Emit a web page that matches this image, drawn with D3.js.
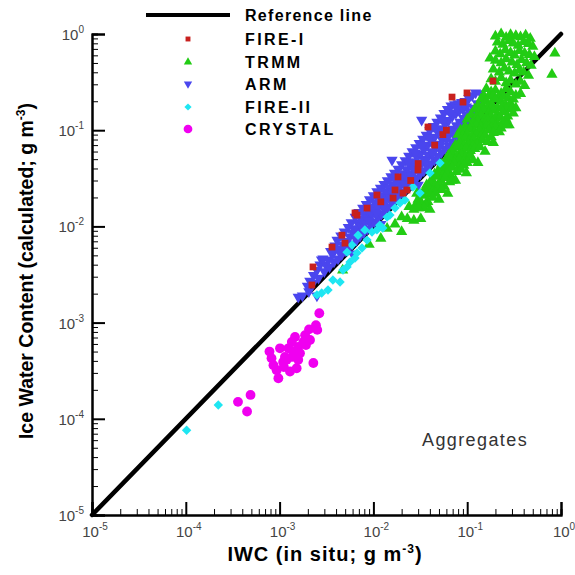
<!DOCTYPE html>
<html>
<head>
<meta charset="utf-8">
<script src="https://cdnjs.cloudflare.com/ajax/libs/d3/7.8.5/d3.min.js"></script>
<title>Aggregates IWC</title>
<style>
  body{ margin:0; background:#fff; }
  text{ font-family:"Liberation Sans", Arial, Helvetica, sans-serif; }
</style>
</head>
<body>
<script>
// values in g m^-3, [in situ, calculated]
var fire1 = [[0.188,0.325],[0.0995,0.244],[0.0689,0.221],[0.0902,0.196],[0.0382,0.108],[0.0228,0.0239],
  [0.00668,0.0131],[0.00462,0.0081],[0.00362,0.0061],[0.00227,0.00379],[0.00221,0.00246],[0.017,0.0239],
  [0.0162,0.0197],[0.0207,0.0222],[0.00637,0.0138],[0.00498,0.0067],[0.00855,0.0155],[0.0109,0.0212],
  [0.0299,0.0386],[0.0183,0.0327],[0.030,0.045],[0.045,0.07],[0.055,0.09],[0.012,0.018],[0.025,0.030],[0.06,0.10]];

var trmm = [
  [0.20,0.95],[0.23,1.0],[0.26,0.92],[0.29,0.98],[0.33,0.96],[0.37,0.93],[0.42,0.97],[0.47,0.90],
  [0.21,0.82],[0.24,0.78],[0.28,0.85],[0.31,0.80],[0.35,0.76],[0.40,0.83],[0.45,0.79],[0.50,0.74],
  [0.20,0.66],[0.225,0.62],[0.255,0.68],[0.29,0.64],[0.32,0.60],[0.36,0.67],[0.41,0.63],[0.46,0.61],[0.52,0.58],[0.86,0.63],
  [0.175,0.56],[0.20,0.53],[0.23,0.50],[0.26,0.55],[0.30,0.51],[0.34,0.48],[0.38,0.54],[0.43,0.50],[0.48,0.47],
  [0.19,0.43],[0.22,0.40],[0.25,0.44],[0.28,0.41],[0.32,0.39],[0.36,0.42],[0.40,0.40],[0.45,0.37],[0.80,0.38],
  [0.18,0.34],[0.20,0.32],[0.23,0.35],[0.26,0.31],[0.29,0.33],[0.33,0.30],[0.37,0.32],[0.41,0.29],
  [0.16,0.27],[0.18,0.25],[0.20,0.26],[0.23,0.24],[0.26,0.27],[0.29,0.25],[0.33,0.23],[0.37,0.24],
  [0.15,0.23],[0.17,0.225],[0.19,0.23],[0.215,0.22],[0.245,0.225],[0.275,0.215],[0.31,0.21],
  [0.14,0.21],[0.16,0.20],[0.18,0.19],[0.20,0.21],[0.23,0.20],[0.26,0.18],[0.29,0.19],[0.33,0.17],
  [0.13,0.18],[0.145,0.178],[0.165,0.175],[0.185,0.178],[0.21,0.17],[0.235,0.175],[0.26,0.165],[0.30,0.17],
  [0.12,0.165],[0.135,0.155],[0.15,0.16],[0.17,0.15],[0.19,0.16],[0.21,0.145],[0.24,0.155],[0.27,0.14],[0.31,0.15],
  [0.11,0.145],[0.125,0.14],[0.14,0.142],[0.16,0.138],[0.18,0.14],[0.20,0.133],[0.225,0.138],[0.26,0.13],
  [0.10,0.13],[0.115,0.12],[0.13,0.125],[0.145,0.118],[0.165,0.128],[0.185,0.12],[0.21,0.115],[0.24,0.122],[0.28,0.113],
  [0.095,0.11],[0.11,0.108],[0.125,0.112],[0.14,0.107],[0.16,0.11],[0.18,0.106],[0.20,0.108],[0.23,0.105],
  [0.085,0.10],[0.095,0.097],[0.107,0.102],[0.12,0.095],[0.135,0.099],[0.15,0.093],[0.17,0.10],[0.19,0.094],[0.22,0.096],[0.265,0.113],
  [0.08,0.09],[0.09,0.088],[0.10,0.091],[0.112,0.087],[0.125,0.09],[0.14,0.086],[0.155,0.088],[0.18,0.085],
  [0.085,0.078],[0.095,0.082],[0.105,0.077],[0.118,0.08],[0.13,0.075],[0.145,0.079],[0.165,0.076],[0.19,0.074],
  [0.075,0.07],[0.083,0.073],[0.092,0.069],[0.103,0.071],[0.115,0.068],[0.128,0.07],
  [0.07,0.063],[0.078,0.067],[0.087,0.062],[0.097,0.065],[0.108,0.061],[0.12,0.064],[0.137,0.067],[0.155,0.06],
  [0.063,0.055],[0.07,0.057],[0.078,0.054],[0.087,0.056],[0.096,0.053],[0.108,0.055],
  [0.059,0.049],[0.066,0.051],[0.074,0.048],[0.082,0.05],[0.091,0.047],[0.10,0.046],[0.115,0.049],[0.13,0.046],
  [0.053,0.044],[0.059,0.045],[0.066,0.043],[0.073,0.045],[0.082,0.042],[0.092,0.043],
  [0.05,0.039],[0.056,0.04],[0.062,0.038],[0.069,0.041],[0.077,0.037],[0.086,0.039],[0.098,0.036],
  [0.045,0.035],[0.05,0.036],[0.055,0.034],[0.061,0.035],[0.068,0.033],
  [0.042,0.031],[0.047,0.033],[0.052,0.03],[0.058,0.032],[0.065,0.029],[0.069,0.030],[0.075,0.03],
  [0.037,0.027],[0.041,0.028],[0.045,0.026],[0.051,0.027],[0.057,0.026],
  [0.035,0.024],[0.039,0.025],[0.043,0.023],[0.048,0.025],[0.054,0.024],[0.062,0.022],
  [0.029,0.022],[0.032,0.0215],[0.036,0.023],[0.040,0.0215],[0.046,0.022],
  [0.030,0.019],[0.034,0.021],[0.038,0.018],[0.043,0.020],[0.050,0.019],
  [0.029,0.0175],[0.032,0.018],[0.036,0.017],
  [0.024,0.016],[0.027,0.015],[0.030,0.0165],[0.035,0.0155],[0.040,0.015],
  [0.020,0.0125],[0.023,0.012],[0.027,0.0115],[0.032,0.012],
  [0.020,0.0088],[0.030,0.0155],[0.017,0.0105],[0.014,0.0095],[0.0047,0.0035],[0.012,0.0075],[0.009,0.0065]];

var arm = [
  [0.00158,0.00185],[0.00175,0.0019],[0.00198,0.0024],[0.00205,0.0021],[0.0021,0.0027],[0.0025,0.0019],
  [0.00227,0.00258],[0.0023,0.0031],[0.0026,0.0029],[0.0025,0.0035],[0.0027,0.0040],[0.0028,0.0045],
  [0.0030,0.0034],[0.0031,0.0040],[0.0029,0.0046],[0.0034,0.0038],[0.0033,0.0045],[0.0035,0.0055],
  [0.0038,0.0043],[0.0037,0.0052],[0.0039,0.0063],[0.0042,0.0046],[0.0043,0.0058],[0.0041,0.0072],
  [0.0046,0.0051],[0.0047,0.0064],[0.0045,0.0080],[0.0050,0.0056],[0.0051,0.0070],[0.0049,0.0088],
  [0.0055,0.0060],[0.0056,0.0078],[0.0054,0.0098],[0.0060,0.0066],[0.0061,0.0085],[0.0058,0.0110],[0.0062,0.0095],[0.0060,0.0052],
  [0.0066,0.0072],[0.0067,0.0092],[0.0064,0.0125],[0.0068,0.0108],
  [0.0072,0.0079],[0.0074,0.0102],[0.0070,0.0140],[0.0073,0.0120],
  [0.0079,0.0086],[0.0081,0.0112],[0.0077,0.0155],[0.0080,0.0132],
  [0.0086,0.0094],[0.0088,0.0122],[0.0084,0.0170],[0.0087,0.0145],
  [0.0094,0.0103],[0.0096,0.0133],[0.0091,0.0190],[0.0095,0.0160],
  [0.0103,0.0112],[0.0105,0.0146],[0.0100,0.0210],[0.0104,0.0175],
  [0.0112,0.0122],[0.0114,0.0160],[0.0109,0.0230],[0.0113,0.0192],[0.0120,0.0105],
  [0.0122,0.0134],[0.0125,0.0175],[0.0119,0.0250],[0.0123,0.0210],
  [0.0133,0.0146],[0.0136,0.0190],[0.0130,0.0275],[0.0134,0.0230],
  [0.0145,0.0160],[0.0148,0.0208],[0.0141,0.0300],[0.0146,0.0250],
  [0.0158,0.0174],[0.0161,0.0228],[0.0154,0.0330],[0.0159,0.0272],[0.0158,0.049],
  [0.0172,0.0190],[0.0176,0.0248],[0.0168,0.0360],[0.0173,0.0296],
  [0.0188,0.0207],[0.0192,0.0270],[0.0183,0.0395],[0.0189,0.0325],
  [0.0205,0.0226],[0.0209,0.0295],[0.0200,0.0440],[0.0206,0.0355],
  [0.0224,0.0246],[0.0229,0.0322],[0.0218,0.0485],[0.0225,0.0390],
  [0.0244,0.0268],[0.0249,0.0352],[0.0238,0.0540],[0.0245,0.0430],
  [0.0266,0.0292],[0.0272,0.0385],[0.0259,0.0600],[0.0268,0.0470],
  [0.0290,0.0320],[0.0296,0.0420],[0.0283,0.0660],[0.0292,0.0520],[0.0300,0.0270],
  [0.0316,0.0348],[0.0323,0.0460],[0.0308,0.0730],[0.0318,0.0570],[0.0327,0.128],
  [0.0345,0.0380],[0.0352,0.0500],[0.0336,0.0810],[0.0347,0.0630],
  [0.0376,0.0414],[0.0384,0.0550],[0.0366,0.0890],[0.0378,0.0700],
  [0.0410,0.0450],[0.0418,0.0600],[0.0400,0.0990],[0.0412,0.0770],
  [0.0447,0.0490],[0.0456,0.0660],[0.0436,0.1100],[0.0450,0.0850],
  [0.0488,0.0537],[0.0498,0.0720],[0.0476,0.1220],[0.0491,0.0940],[0.0500,0.0460],
  [0.0532,0.0585],[0.0543,0.0790],[0.0519,0.1350],[0.0535,0.1040],
  [0.0580,0.0640],[0.0592,0.0860],[0.0566,0.1500],[0.0584,0.1150],
  [0.0632,0.0695],[0.0645,0.0940],[0.0617,0.1650],[0.0636,0.1270],
  [0.0690,0.0760],[0.0704,0.1030],[0.0673,0.1800],[0.0694,0.1400],
  [0.0752,0.0830],[0.0767,0.1120],[0.0734,0.1850],[0.0757,0.1500],
  [0.0820,0.0900],[0.0836,0.1220],[0.0800,0.1900],[0.0825,0.1600],
  [0.0894,0.0985],[0.0912,0.1330],[0.0872,0.1950],[0.0900,0.1650],
  [0.0975,0.1070],[0.0995,0.1450],[0.0951,0.2000],[0.0981,0.1750],
  [0.106,0.117],[0.108,0.156],[0.104,0.215],
  [0.116,0.128],[0.118,0.170],[0.113,0.230],
  [0.126,0.142],[0.128,0.190],[0.123,0.245],[0.140,0.240],
  [0.0044,0.0053],[0.0052,0.0065],[0.0063,0.0080],[0.0076,0.0097],[0.0090,0.0115],[0.0108,0.0138],
  [0.0128,0.0165],[0.0152,0.0197],[0.0180,0.0235],[0.0214,0.0280],[0.0255,0.0335],[0.0303,0.0400],
  [0.0360,0.0478],[0.0428,0.0570],[0.0510,0.0680],[0.0605,0.0810],[0.0720,0.0960],[0.0855,0.1140],[0.1010,0.1330],
  [0.0235,0.0470],[0.0280,0.0580],[0.0330,0.0690],[0.0395,0.0840],[0.0470,0.1020],[0.0555,0.1250],
  [0.0660,0.1520],[0.0780,0.1700],[0.0930,0.1850]];

var fire2 = [[1.02e-4,7.6e-5],[2.22e-4,1.39e-4],[0.0025,0.00194],[0.00281,0.00203],[0.00328,0.00218],
  [0.0037,0.00277],[0.00441,0.00264],[0.00474,0.00352],[0.00524,0.00379],[0.00564,0.00427],[0.00637,0.0047],
  [0.00592,0.0064],[0.00524,0.0054],[0.00668,0.0053],[0.00755,0.00596],[0.00686,0.0081],[0.00855,0.0072],
  [0.0081,0.0092],[0.00966,0.00875],[0.0109,0.0092],[0.0117,0.0103],[0.0126,0.0096],[0.014,0.0125],
  [0.015,0.0131],[0.017,0.0155],[0.0192,0.0175],[0.0217,0.0188],[0.0264,0.0257],[0.0314,0.0222],
  [0.0401,0.0359],[0.0513,0.0456]];

var crystal = [[2.65e-3,1.25e-3],[2.44e-3,9.4e-4],[2.52e-3,8.4e-4],[2.06e-3,8.5e-4],[1.87e-3,7.4e-4],
  [2.11e-3,6.6e-4],[1.46e-3,7.1e-4],[1.35e-3,6.3e-4],[1.58e-3,5.6e-4],[1.24e-3,5.4e-4],[1.40e-3,5.0e-4],
  [1.65e-3,4.8e-4],[1.14e-3,4.4e-4],[1.01e-3,5.4e-4],[7.8e-4,5.0e-4],[8.2e-4,4.25e-4],[1.09e-3,3.9e-4],
  [9.3e-4,3.2e-4],[1.29e-3,3.1e-4],[1.52e-3,3.35e-4],[2.29e-3,3.8e-4],[9.7e-4,2.64e-4],[1.19e-3,4.1e-4],
  [8.6e-4,3.6e-4],[1.79e-3,6.3e-4],[1.91e-3,5.85e-4],[1.36e-3,4.4e-4],[1.11e-3,3.45e-4],[1.58e-3,4.1e-4],
  [4.9e-4,1.77e-4],[3.6e-4,1.5e-4],[4.5e-4,1.19e-4]];

var refLine = [1e-5, 1];
var exponents = [-5, -4, -3, -2, -1, 0];

var series = [
  { name: "FIRE-I",  data: fire1,   color: "#c8201e", shape: d3.symbolSquare,   size: 46, rot: 0,   order: 3 },
  { name: "TRMM",    data: trmm,    color: "#22cc14", shape: d3.symbolTriangle, size: 55, rot: 0,   order: 1 },
  { name: "ARM",     data: arm,     color: "#4a46ee", shape: d3.symbolTriangle, size: 55, rot: 180, order: 0 },
  { name: "FIRE-II", data: fire2,   color: "#1ee6f2", shape: d3.symbolSquare,   size: 44, rot: 45,  order: 2 },
  { name: "CRYSTAL", data: crystal, color: "#f000f0", shape: d3.symbolCircle,   size: 76, rot: 0,   order: 4 }
];
var legendSize = [24, 30, 30, 26, 60];

var W = 575, H = 575;
var x = d3.scaleLog().domain([1e-5, 1]).range([92, 561]);
var y = d3.scaleLog().domain([1e-5, 1]).range([515, 34]);

var svg = d3.select("body").append("svg")
    .attr("width", W)
    .attr("height", H);

// reference line under the points
svg.append("line")
    .attr("x1", x(refLine[0])).attr("y1", y(refLine[0]))
    .attr("x2", x(refLine[1])).attr("y2", y(refLine[1]))
    .attr("stroke", "#000").attr("stroke-width", 4.5)
    .attr("stroke-linecap", "round");

series.slice().sort(function(a, b){ return a.order - b.order; }).forEach(function(s){
  svg.append("g").selectAll("path")
    .data(s.data)
    .enter().append("path")
      .attr("d", d3.symbol().type(s.shape).size(s.size))
      .attr("transform", function(d){
        return "translate(" + x(d[0]) + "," + y(d[1]) + ") rotate(" + s.rot + ")";
      })
      .attr("fill", s.color);
});

// axes, ticks pointing inward
var minor = [];
exponents.slice(0, -1).forEach(function(e){
  for (var k = 2; k < 10; k++) minor.push(k * Math.pow(10, e));
});
var major = exponents.map(function(e){ return Math.pow(10, e); });

function styleAxis(g){
  g.select(".domain").attr("stroke", "#000").attr("stroke-width", 2);
  g.selectAll(".tick line").attr("stroke", "#000");
}

var gy = svg.append("g").attr("transform", "translate(92,0)");
gy.append("g").call(d3.axisLeft(y).tickValues(minor).tickSize(-6).tickFormat("")).call(styleAxis)
  .selectAll(".tick line").attr("stroke-width", 1);
gy.append("g").call(d3.axisLeft(y).tickValues(major).tickSize(-13).tickFormat("")).call(styleAxis)
  .selectAll(".tick line").attr("stroke-width", 2);

var gx = svg.append("g").attr("transform", "translate(0,515)");
gx.append("g").call(d3.axisBottom(x).tickValues(minor).tickSize(-6).tickFormat("")).call(styleAxis)
  .selectAll(".tick line").attr("stroke-width", 1);
gx.append("g").call(d3.axisBottom(x).tickValues(major).tickSize(-13).tickFormat("")).call(styleAxis)
  .selectAll(".tick line").attr("stroke-width", 2);

function powLabel(sel, e){
  sel.append("tspan").text("10");
  sel.append("tspan").attr("dy", -7).attr("font-size", 10).text(e);
}

exponents.forEach(function(e){
  var v = Math.pow(10, e);
  svg.append("text")
      .attr("x", 84).attr("y", y(v) + 6)
      .attr("text-anchor", "end")
      .attr("font-size", 15).attr("fill", "#444")
      .call(powLabel, e);
  svg.append("text")
      .attr("x", x(v) + 3).attr("y", 537)
      .attr("text-anchor", "middle")
      .attr("font-size", 15).attr("fill", "#444")
      .call(powLabel, e);
});

// axis titles
var xt = svg.append("text")
    .attr("x", 325).attr("y", 561)
    .attr("text-anchor", "middle")
    .attr("font-size", 20).attr("font-weight", "bold").attr("letter-spacing", 1);
xt.append("tspan").text("IWC (in situ; g m");
xt.append("tspan").attr("dy", -8).attr("font-size", 12).text("-3");
xt.append("tspan").attr("dy", 8).text(")");

var yt = svg.append("text")
    .attr("transform", "translate(33,271) rotate(-90)")
    .attr("text-anchor", "middle")
    .attr("font-size", 19.5).attr("font-weight", "bold");
yt.append("tspan").text("Ice Water Content (calculated; g m");
yt.append("tspan").attr("dy", -8).attr("font-size", 12).text("-3");
yt.append("tspan").attr("dy", 8).text(")");

svg.append("text")
    .attr("x", 422).attr("y", 446)
    .attr("font-size", 18).attr("fill", "#333").attr("letter-spacing", 1.4)
    .text("Aggregates");

// legend
var lg = svg.append("g");
lg.append("line")
    .attr("x1", 146).attr("x2", 230).attr("y1", 15).attr("y2", 15)
    .attr("stroke", "#000").attr("stroke-width", 4);
lg.append("text")
    .attr("x", 245).attr("y", 21)
    .attr("font-size", 16).attr("font-weight", "bold").attr("letter-spacing", 1.3)
    .text("Reference line");

var legY = [39, 62, 84, 107, 129];
series.forEach(function(s, i){
  lg.append("path")
      .attr("d", d3.symbol().type(s.shape).size(legendSize[i]))
      .attr("transform", "translate(188," + legY[i] + ") rotate(" + s.rot + ")")
      .attr("fill", s.color);
  lg.append("text")
      .attr("x", 245).attr("y", legY[i] + 6)
      .attr("font-size", 16).attr("font-weight", "bold").attr("letter-spacing", 2.4)
      .text(s.name);
});
</script>
</body>
</html>
